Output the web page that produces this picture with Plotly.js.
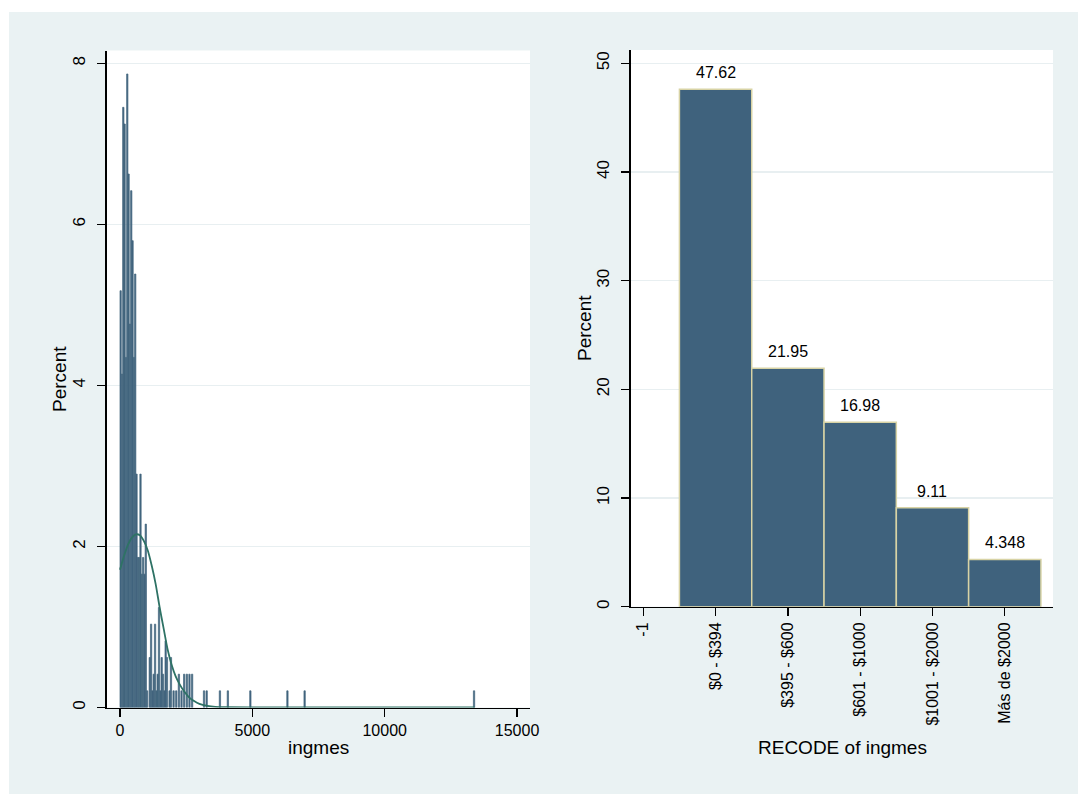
<!DOCTYPE html>
<html>
<head>
<meta charset="utf-8">
<script src="https://cdn.plot.ly/plotly-3.0.1.min.js"></script>
<style>
  html, body { margin: 0; padding: 0; background: #ffffff; }
  #chart { width: 1078px; height: 794px; }
</style>
</head>
<body>
<div id="chart"></div>
<script>
// ---- Left panel: histogram of ingmes (bin width 50), counts per bin ----
const totalObs = 483;
const binWidth = 50;
const binLow = [0, 50, 100, 150, 200, 250, 300, 350, 400, 450, 500, 550,
  600, 650, 700, 750, 800, 850, 900, 950,
  1000, 1100, 1150, 1200, 1250, 1300, 1350, 1400, 1450, 1500, 1550, 1600, 1650, 1700, 1750, 1850, 1900,
  2000, 2100, 2200, 2300, 2400, 2500, 2600, 2700,
  3150, 3250, 3750, 4050, 4900, 6300, 6950, 13350];
const binCount = [25, 20, 36, 35, 21, 38, 32, 23, 31, 28, 21, 26,
  14, 9, 9, 14, 8, 9, 8, 11,
  1, 3, 5, 1, 2, 5, 1, 2, 6, 1, 3, 2, 1, 4, 3, 1, 3,
  1, 1, 2, 1, 2, 2, 2, 2,
  1, 1, 1, 1, 1, 1, 1, 1];

// Normal density overlay, in percent units
const normX = [0, 150, 300, 450, 600, 750, 900, 1050, 1200, 1350, 1500, 1650, 1800,
  1950, 2100, 2250, 2400, 2600, 2800, 3000, 3300, 3600, 4000, 5000, 13400];
const normPct = [1.71, 1.88, 2.02, 2.11, 2.15, 2.14, 2.07, 1.95, 1.76, 1.53, 1.24, 0.98, 0.72,
  0.53, 0.39, 0.29, 0.21, 0.13, 0.08, 0.045, 0.02, 0.008, 0.003, 0, 0];

const leftXTicks = [0, 5000, 10000, 15000];
const leftYTicks = [0, 2, 4, 6, 8];

// ---- Right panel: RECODE of ingmes ----
const recodeCodes = [0, 1, 2, 3, 4];
const recodePct = [47.62, 21.95, 16.98, 9.11, 4.348];
const rightXTickVals = [-1, 0, 1, 2, 3, 4];
const rightXTickText = ['-1', '$0 - $394', '$395 - $600', '$601 - $1000', '$1001 - $2000', 'Más de $2000'];
const rightYTicks = [0, 10, 20, 30, 40, 50];

// ---- page geometry (pixels) ----
const W = 1078, H = 794;
const px = v => v / W;
const py = v => 1 - v / H;

const barFill = '#3f627d';
const font = 'Liberation Sans, Arial, Helvetica, sans-serif';

const histTrace = {
  type: 'bar',
  x: binLow.map(v => v + binWidth / 2),
  y: binCount.map(c => c / totalObs * 100),
  width: binWidth,
  marker: { color: barFill, line: { color: '#46687f', width: 0.7 } },
  xaxis: 'x', yaxis: 'y',
  hoverinfo: 'skip'
};

const normTrace = {
  type: 'scatter', mode: 'lines',
  x: normX, y: normPct,
  line: { color: '#2e7265', width: 1.8, shape: 'spline', smoothing: 0.8 },
  xaxis: 'x', yaxis: 'y',
  hoverinfo: 'skip'
};

const recodeTrace = {
  type: 'bar',
  x: recodeCodes,
  y: recodePct,
  width: 1,
  marker: { color: barFill, line: { color: '#d8d3a5', width: 1.5 } },
  xaxis: 'x2', yaxis: 'y2',
  hoverinfo: 'skip'
};

const tickFont = { family: font, size: 16, color: '#000' };
const yTickFont = { family: font, size: 17, color: '#000' };
const titleFont = { family: font, size: 19, color: '#000' };

const gridColor = '#e8eff1';

const baseAxis = {
  showline: true, linecolor: '#000', linewidth: 1.3,
  ticks: 'outside', ticklen: 8, tickwidth: 1.3, tickcolor: '#000',
  tickfont: tickFont, zeroline: false, fixedrange: true
};

const labelAnnotations = recodeCodes.map((c, i) => ({
  x: c, y: recodePct[i], xref: 'x2', yref: 'y2',
  text: String(recodePct[i]), showarrow: false,
  yanchor: 'bottom', yshift: 6,
  font: { family: font, size: 16, color: '#000' }
}));

const titleAnnotations = [
  { text: 'Percent', x: px(60), y: py(379), textangle: -90 },
  { text: 'ingmes', x: px(318), y: py(747) },
  { text: 'Percent', x: px(584), y: py(328), textangle: -90 },
  { text: 'RECODE of ingmes', x: px(842), y: py(747) }
].map(a => Object.assign({
  xref: 'paper', yref: 'paper', showarrow: false,
  xanchor: 'center', yanchor: 'middle', font: titleFont
}, a));

const layout = {
  width: W, height: H,
  margin: { l: 0, r: 0, t: 0, b: 0 },
  paper_bgcolor: '#eaf2f3',
  plot_bgcolor: '#ffffff',
  showlegend: false,
  bargap: 0,
  font: { family: font, color: '#000' },
  xaxis: Object.assign({}, baseAxis, {
    domain: [px(106.7), px(530)],
    range: [-502, 15489],
    tickvals: leftXTicks, ticktext: leftXTicks.map(String),
    showgrid: false, anchor: 'y'
  }),
  yaxis: Object.assign({}, baseAxis, {
    domain: [py(707.5), py(50.5)],
    range: [0, 8.159],
    tickvals: leftYTicks, tickangle: -90, ticklabelstandoff: 6,
    tickfont: yTickFont,
    showgrid: true, gridcolor: gridColor, gridwidth: 1.5,
    anchor: 'x'
  }),
  xaxis2: Object.assign({}, baseAxis, {
    domain: [px(630.7), px(1053)],
    range: [-1.174, 4.667],
    tickvals: rightXTickVals, ticktext: rightXTickText, tickangle: -90,
    showgrid: false, anchor: 'y2'
  }),
  yaxis2: Object.assign({}, baseAxis, {
    domain: [py(606.7), py(50)],
    range: [0, 51.23],
    tickvals: rightYTicks, tickangle: -90, ticklabelstandoff: 6,
    tickfont: yTickFont,
    showgrid: true, gridcolor: gridColor, gridwidth: 1.5,
    anchor: 'x2'
  }),
  shapes: [
    // white frame strips along the top and left edges
    { type: 'rect', xref: 'paper', yref: 'paper', x0: 0, x1: px(9), y0: 0, y1: 1,
      fillcolor: '#ffffff', line: { width: 0 }, layer: 'below' },
    { type: 'rect', xref: 'paper', yref: 'paper', x0: 0, x1: 1, y0: py(12), y1: 1,
      fillcolor: '#ffffff', line: { width: 0 }, layer: 'below' }
  ],
  annotations: labelAnnotations.concat(titleAnnotations)
};

Plotly.newPlot('chart', [histTrace, normTrace, recodeTrace], layout,
  { displayModeBar: false, staticPlot: true });
</script>
</body>
</html>
